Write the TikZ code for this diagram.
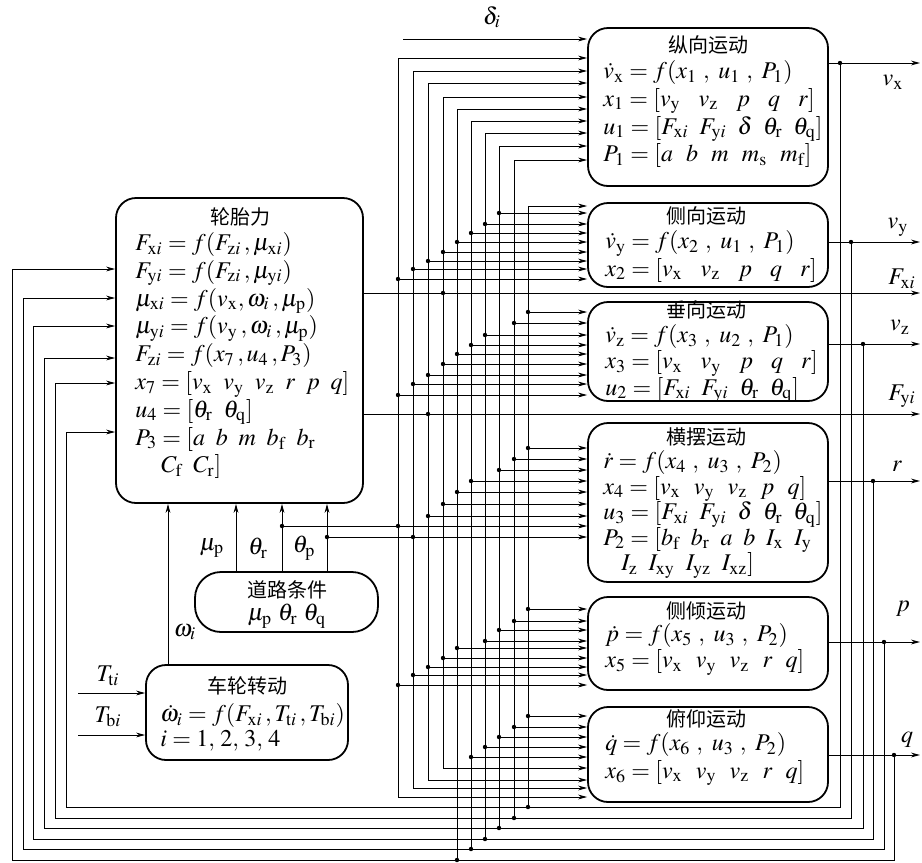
\documentclass[tikz,border=0pt]{standalone}
\usepackage{mathptmx}
\usepackage{fontspec}
\setmainfont{Liberation Serif}
\newfontfamily\cjk{Noto Sans CJK SC}
\usetikzlibrary{arrows.meta,fit}
\newcommand{\rs}[1]{_{\mathrm{#1}}}
\newcommand{\rsi}[1]{_{\mathrm{#1}i}}
\newcommand{\gw}{\hspace{0.75em}}
\newcommand{\gm}{\hspace{0.55em}}
\newcommand{\gn}{\hspace{0.45em}}
\newcommand{\cs}{\ ,\ }

\begin{document}
\begin{tikzpicture}[x=0.5pt,y=-0.5pt,
  blk/.style={draw,line width=0.9pt,rounded corners=10pt,inner sep=0pt},
  sig/.style={line width=0.45pt},
  arr/.style={sig,-{Stealth[length=4.5pt,width=2.4pt]}},
  barr/.style={sig,{Stealth[length=4.5pt,width=2.4pt]}-{Stealth[length=4.5pt,width=2.4pt]}},
  ttl/.style={font=\cjk\fontsize{10}{12}\selectfont,inner sep=0pt},
  eq/.style={align=left,anchor=north west,inner sep=0pt,font=\fontsize{12}{13.9}\selectfont},
  lab/.style={inner sep=0pt,font=\fontsize{12}{13}\selectfont}]
\useasboundingbox (0,0) rectangle (922,863);

% boxes
\node[blk,fit={(588,28) (828,186)}] (lon) {};
\node[blk,fit={(588,203) (828,287)}] (lat) {};
\node[blk,fit={(588,302) (828,401)}] (vert) {};
\node[blk,fit={(588,423) (828,582)}] (yaw) {};
\node[blk,fit={(588,597) (828,690)}] (roll) {};
\node[blk,fit={(588,707) (828,802)}] (pitch) {};
\node[blk,fit={(116,198) (363,503)}] (tyre) {};
\node[blk,rounded corners=13pt,fit={(195,572) (378,632)}] (road) {};
\node[blk,fit={(146,665) (348,760)}] (wheel) {};

% texts in the boxes
\node[ttl] at (708,45) {纵向运动};
\node[eq] at (603,60) {$\dot v\rs{x}=f(x_1\cs u_1\cs P_1)$\\
  $x_1=[v\rs{y}\gw v\rs{z}\gw p\gw q\gw r]$\\
  $u_1=[F\rsi{x}\gn F\rsi{y}\gn \delta\gn \theta\rs{r}\gn \theta\rs{q}]$\\
  $P_1=[a\gm b\gm m\gm m\rs{s}\gm m\rs{f}]$};
\node[ttl] at (706,216) {侧向运动};
\node[eq] at (605,230) {$\dot v\rs{y}=f(x_2\cs u_1\cs P_1)$\\
  $x_2=[v\rs{x}\gw v\rs{z}\gw p\gw q\gw r]$};
\node[ttl] at (706,310) {垂向运动};
\node[eq,font=\fontsize{12}{13.2}\selectfont] at (605,324) {$\dot v\rs{z}=f(x_3\cs u_2\cs P_1)$\\
  $x_3=[v\rs{x}\gw v\rs{y}\gw p\gw q\gw r]$\\
  $u_2=[F\rsi{x}\gn F\rsi{y}\gn \theta\rs{r}\gn \theta\rs{q}]$};
\node[ttl] at (706,437) {横摆运动};
\node[eq,font=\fontsize{12}{12.8}\selectfont] at (603,450) {$\dot r=f(x_4\cs u_3\cs P_2)$\\
  $x_4=[v\rs{x}\gm v\rs{y}\gm v\rs{z}\gm p\gm q]$\\
  $u_3=[F\rsi{x}\gn F\rsi{y}\gn \delta\gn \theta\rs{r}\gn \theta\rs{q}]$\\
  $P_2=[b\rs{f}\gn b\rs{r}\gn a\gn b\gn I\rs{x}\gn I\rs{y}$\\
  \hspace*{9pt}$I\rs{z}\gn I\rs{xy}\gn I\rs{yz}\gn I\rs{xz}]$};
\node[ttl] at (706,611) {侧倾运动};
\node[eq,font=\fontsize{12}{13}\selectfont] at (605,623) {$\dot p=f(x_5\cs u_3\cs P_2)$\\
  $x_5=[v\rs{x}\gm v\rs{y}\gm v\rs{z}\gm r\gm q]$};
\node[ttl] at (706,719) {俯仰运动};
\node[eq] at (605,732) {$\dot q=f(x_6\cs u_3\cs P_2)$\\
  $x_6=[v\rs{x}\gm v\rs{y}\gm v\rs{z}\gm r\gm q]$};
\node[ttl] at (240,217) {轮胎力};
\node[eq] at (135,232) {$F\rsi{x}=f(F\rsi{z}\,,\mu\rsi{x})$\\
  $F\rsi{y}=f(F\rsi{z}\,,\mu\rsi{y})$\\
  $\mu\rsi{x}=f(v\rs{x},\omega_i\,,\mu\rs{p})$\\
  $\mu\rsi{y}=f(v\rs{y}\,,\omega_i\,,\mu\rs{p})$\\
  $F\rsi{z}=f(x_7\,,u_4\,,P_3)$\\
  $x_7=[v\rs{x}\gn v\rs{y}\gn v\rs{z}\gn r\gn p\gn q]$\\
  $u_4=[\theta\rs{r}\gn \theta\rs{q}]$\\
  $P_3=[a\gn b\gn m\gn b\rs{f}\gn b\rs{r}$\\
  \hspace*{13pt}$C\rs{f}\gn C\rs{r}]$};
\node[ttl] at (287,590) {道路条件};
\node[lab] at (287,616) {$\mu\rs{p}\ \theta\rs{r}\ \theta\rs{q}$};
\node[ttl] at (247,686) {车轮转动};
\node[eq,font=\fontsize{12}{12.6}\selectfont] at (160,703) {$\dot\omega_i=f(F\rsi{x}\,,T\rsi{t}\,,T\rsi{b})$\\
  $i=1,\,2,\,3,\,4$};

% steering input
\draw[arr] (403,39) -- (lon.west |- 0,39);
\node[lab] at (492,17) {$\delta_i$};

% bus of signals feeding the motion blocks
\foreach \x/\t/\b in {398/58/797,413/71/788,428/83/780,443/97/768}
  \draw[barr] (lon.west |- 0,\t) -- (\x,\t) -- (\x,\b) -- (pitch.west |- 0,\b);
\foreach \x/\t/\b in {457/109/860,471/121/849,485/133/839,499/146/828,514/160/818} {
  \draw[arr] (\x,\b) -- (\x,\t) -- (lon.west |- 0,\t);
  \fill (\x,\b) circle (1.1pt);
}
\draw[arr] (528,807) -- (528,206) -- (lat.west |- 0,206);
\fill (528,807) circle (1.1pt);

\foreach \x/\y in {398/279,413/269,428/261,443/252,457/242,471/233,485/224,499/213} {
  \fill (\x,\y) circle (1.1pt);
  \draw[arr] (\x,\y) -- (lat.west |- 0,\y);
}
\foreach \x/\y in {398/395,413/384,428/375,443/364,457/354,471/345,485/335,514/323,528/312} {
  \fill (\x,\y) circle (1.1pt);
  \draw[arr] (\x,\y) -- (vert.west |- 0,\y);
}
\foreach \x/\y in {428/516,443/504,457/492,471/481,499/470,514/459,528/448} {
  \fill (\x,\y) circle (1.1pt);
  \draw[arr] (\x,\y) -- (yaw.west |- 0,\y);
}
\foreach \x/\y in {398/685,413/675,428/667,443/658,457/648,485/641,499/630,514/621,528/609} {
  \fill (\x,\y) circle (1.1pt);
  \draw[arr] (\x,\y) -- (roll.west |- 0,\y);
}
\foreach \x/\y in {471/757,485/747,499/737,514/727,528/716} {
  \fill (\x,\y) circle (1.1pt);
  \draw[arr] (\x,\y) -- (pitch.west |- 0,\y);
}

% tyre forces
\draw[arr] (tyre.east |- 0,293) -- (920,293);
\draw[arr] (tyre.east |- 0,414) -- (920,414);
\fill (443,293) circle (1.1pt);
\fill (428,414) circle (1.1pt);

% road conditions
\foreach \x in {236,282,327}
  \draw[arr] (road.north -| \x,0) -- (tyre.south -| \x,0);
\fill (282,526) circle (1.1pt);
\fill (327,537) circle (1.1pt);
\draw[arr] (282,526) -- (yaw.west |- 0,526);
\draw[arr] (327,537) -- (yaw.west |- 0,537);
\fill (398,526) circle (1.1pt);
\fill (413,537) circle (1.1pt);
\node[lab] at (212,548) {$\mu\rs{p}$};
\node[lab] at (258,548) {$\theta\rs{r}$};
\node[lab] at (304,548) {$\theta\rs{p}$};

% wheel rotation
\draw[arr] (wheel.north -| 168,0) -- (tyre.south -| 168,0);
\node[lab] at (185,632) {$\omega_i$};
\draw[arr] (78,693) -- (wheel.west |- 0,693);
\draw[arr] (78,735) -- (wheel.west |- 0,735);
\node[lab] at (108,676) {$T\rsi{t}$};
\node[lab] at (108,717) {$T\rsi{b}$};

% outputs fed back to the tyre block
\foreach \bx/\yo/\xr/\yb/\xl/\yt in {lon/63/840/807/66/432,lat/242/851/818/55/383,
    vert/344/863/828/44/358,yaw/481/873/839/33/326,roll/642/884/849/23/298,pitch/755/894/860/12/269} {
  \draw[arr] (\bx.east |- 0,\yo) -- (920,\yo);
  \fill (\xr,\yo) circle (1.1pt);
  \draw[arr] (\xr,\yo) -- (\xr,\yb) -- (\xl,\yb) -- (\xl,\yt) -- (tyre.west |- 0,\yt);
}
\node[lab] at (893,82) {$v\rs{x}$};
\node[lab] at (898,227) {$v\rs{y}$};
\node[lab] at (902,279) {$F\rsi{x}$};
\node[lab] at (900,327) {$v\rs{z}$};
\node[lab] at (902,396) {$F\rsi{y}$};
\node[lab] at (897,466) {$r$};
\node[lab] at (903,609) {$p$};
\node[lab] at (907,740) {$q$};
\end{tikzpicture}
\end{document}
